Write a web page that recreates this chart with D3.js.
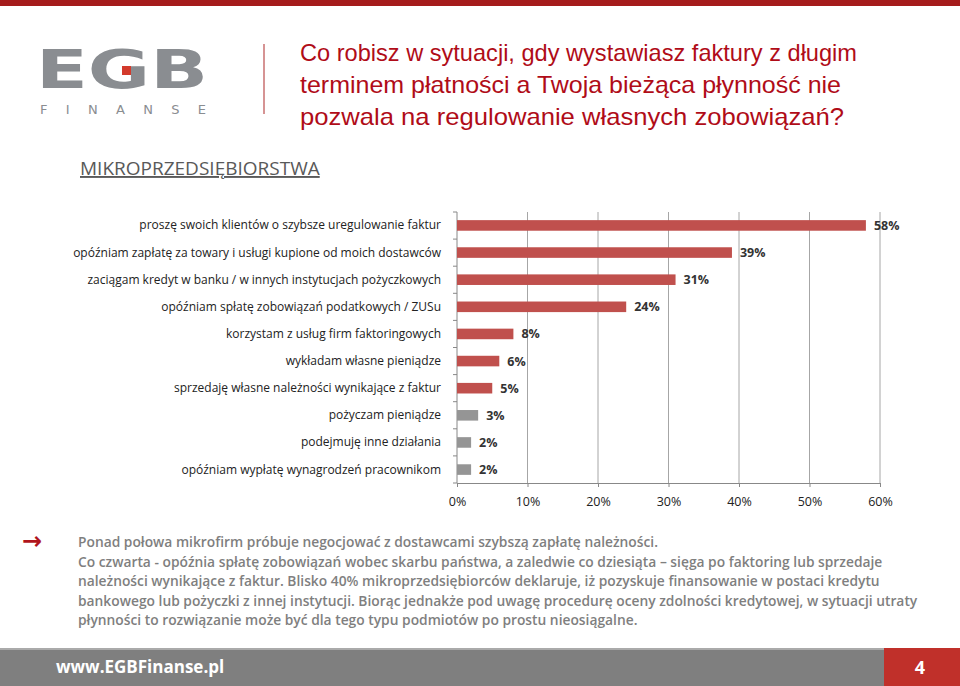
<!DOCTYPE html><html><head><meta charset="utf-8"><script src="https://cdn.jsdelivr.net/npm/d3@7"></script>
<style>body{margin:0;background:#fff}svg{display:block}</style></head><body><svg width="960" height="686"></svg>
<script>
const categories=["proszę swoich klientów o szybsze uregulowanie faktur","opóźniam zapłatę za towary i usługi kupione od moich dostawców","zaciągam kredyt w banku / w innych instytucjach pożyczkowych","opóźniam spłatę zobowiązań podatkowych / ZUSu","korzystam z usług firm faktoringowych","wykładam własne pieniądze","sprzedaję własne należności wynikające z faktur","pożyczam pieniądze","podejmuję inne działania","opóźniam wypłatę wynagrodzeń pracownikom"];
const values=[58,39,31,24,8,6,5,3,2,2];
const highlighted=[1,1,1,1,1,1,1,0,0,0];
const ticks=[0,10,20,30,40,50,60];
const titleLines=["Co robisz w sytuacji, gdy wystawiasz faktury z długim","terminem płatności a Twoja bieżąca płynność nie","pozwala na regulowanie własnych zobowiązań?"];
const bodyLines=["Ponad połowa mikrofirm próbuje negocjować z dostawcami szybszą zapłatę należności.","Co czwarta - opóźnia spłatę zobowiązań wobec skarbu państwa, a zaledwie co dziesiąta – sięga po faktoring lub sprzedaje","należności wynikające z faktur. Blisko 40% mikroprzedsiębiorców deklaruje, iż pozyskuje finansowanie w postaci kredytu","bankowego lub pożyczki z innej instytucji. Biorąc jednakże pod uwagę procedurę oceny zdolności kredytowej, w sytuacji utraty","płynności to rozwiązanie  może być dla tego typu podmiotów po prostu nieosiągalne."];
const svg=d3.select("svg");
const F="'Open Sans','Liberation Sans',sans-serif";
svg.append("rect").attr("x",0).attr("y",0).attr("width",960).attr("height",6).attr("fill","#a51c1c");
// logo
svg.append("text").attr("x",36).attr("y",88).attr("font-family","'DejaVu Sans',sans-serif").attr("font-weight","bold").attr("font-size",54).attr("fill","#8a8d91").attr("textLength",172).attr("lengthAdjust","spacingAndGlyphs").text("EGB");
svg.append("rect").attr("x",122).attr("y",66).attr("width",9).attr("height",9).attr("fill","#d33a2c");
svg.append("text").attr("x",40).attr("y",114).attr("font-family","'DejaVu Sans',sans-serif").attr("font-size",13).attr("fill","#8a8d91").attr("textLength",166).text("FINANSE");
svg.append("line").attr("x1",264).attr("x2",264).attr("y1",44).attr("y2",114).attr("stroke","#c87070").attr("stroke-width",1.5);
svg.append("g").selectAll("text").data(titleLines).join("text").attr("x",300).attr("y",(d,i)=>61+i*32).attr("font-family","'Liberation Sans',Arial,sans-serif").attr("font-size",24).attr("fill","#b00c18").attr("textLength",(d,i)=>[557,541,544][i]).attr("lengthAdjust","spacingAndGlyphs").text(d=>d);
svg.append("text").attr("x",80).attr("y",175).attr("font-family",F).attr("font-size",19).attr("fill","#595959").attr("text-decoration","underline").text("MIKROPRZEDSIĘBIORSTWA");
// chart
const x=d3.scaleLinear().domain([0,60]).range([457,880]);
const y=d3.scaleBand().domain(categories).range([212,483]).paddingInner(0.61).paddingOuter(0.3);
const g=svg.append("g");
g.selectAll(".grid").data(ticks.slice(1)).join("line").attr("x1",d=>x(d)).attr("x2",d=>x(d)).attr("y1",212).attr("y2",483).attr("stroke","#a6a6a6");
g.append("g").attr("transform","translate(0,483)").call(d3.axisBottom(x).tickValues(ticks).tickSize(4).tickFormat(d=>d+"%")).call(a=>{a.select(".domain").attr("stroke","#888");a.selectAll("line").attr("stroke","#888");a.selectAll("text").attr("font-family",F).attr("font-size",12.5).attr("fill","#222").attr("dy","1.3em");});
g.append("line").attr("x1",457).attr("x2",457).attr("y1",212).attr("y2",483).attr("stroke","#888");
g.selectAll(".yt").data(d3.range(categories.length+1)).join("line").attr("x1",453).attr("x2",457).attr("y1",i=>212+i*27.1).attr("y2",i=>212+i*27.1).attr("stroke","#888");
g.selectAll(".bar").data(values).join("rect").attr("x",x(0)).attr("y",(d,i)=>y(categories[i])).attr("width",d=>x(d)-x(0)).attr("height",y.bandwidth()).attr("fill",(d,i)=>highlighted[i]?"#c0504d":"#959595");
g.selectAll(".vl").data(values).join("text").attr("x",d=>x(d)+8).attr("y",(d,i)=>y(categories[i])+y.bandwidth()/2+4.5).attr("font-family",F).attr("font-size",12.5).attr("font-weight","bold").attr("fill","#333").text(d=>d+"%");
g.selectAll(".cl").data(categories).join("text").attr("x",441).attr("y",d=>y(d)+y.bandwidth()/2+4).attr("text-anchor","end").attr("font-family",F).attr("font-size",12).attr("fill","#222").text(d=>d);
// body
svg.append("text").attr("x",22).attr("y",549).attr("font-family","'DejaVu Sans',sans-serif").attr("font-weight","bold").attr("font-size",24).attr("fill","#b0141c").text("→");
svg.append("g").selectAll("text").data(bodyLines).join("text").attr("x",78).attr("y",(d,i)=>547+i*19.5).attr("font-family",F).attr("font-size",13.8).attr("font-weight",600).attr("fill","#7f7f7f").text(d=>d);
// footer
svg.append("rect").attr("x",0).attr("y",648).attr("width",960).attr("height",38).attr("fill","#7f7f7f");
svg.append("rect").attr("x",0).attr("y",648).attr("width",960).attr("height",2).attr("fill","#aaa");
svg.append("rect").attr("x",884).attr("y",648).attr("width",76).attr("height",38).attr("fill","#c0302a");
svg.append("text").attr("x",56).attr("y",673).attr("font-family",F).attr("font-weight","bold").attr("font-size",17).attr("fill","#fff").text("www.EGBFinanse.pl");
svg.append("text").attr("x",920).attr("y",674).attr("text-anchor","middle").attr("font-family",F).attr("font-weight","bold").attr("font-size",18).attr("fill","#fff").text("4");
</script></body></html>
